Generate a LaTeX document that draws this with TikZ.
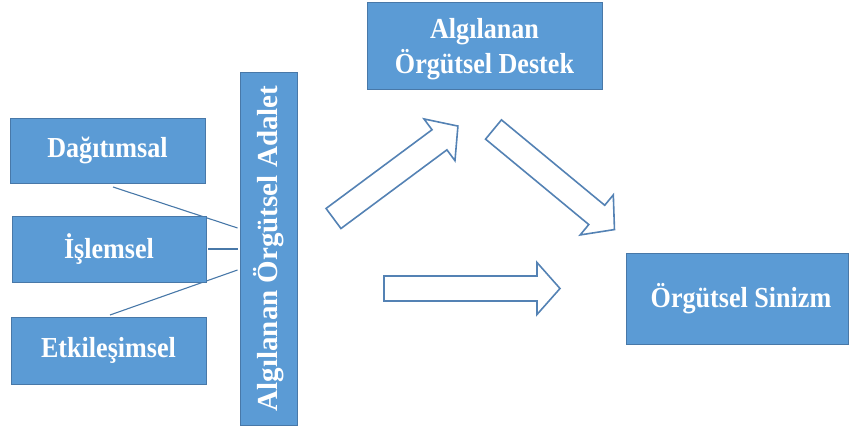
\documentclass[tikz,border=0pt]{standalone}
\usepackage{fontspec}
\setmainfont{Liberation Serif}
\newfontfamily\boxfont{Liberation Serif}[FakeStretch=0.9]
\usetikzlibrary{positioning,calc}
\definecolor{boxblue}{RGB}{91,155,213}
\definecolor{edgeblue}{RGB}{72,120,168}
\definecolor{arrowblue}{RGB}{84,130,180}
\tikzset{>=latex,
  box/.style={draw=edgeblue, line width=0.9pt, fill=boxblue, text=white, align=center, inner sep=0pt,
    font=\boxfont\fontsize{29}{35}\selectfont\bfseries},
  link/.style={draw=edgeblue, line width=1.1pt},
  pics/bigarrow/.style={code={
    \draw[draw=arrowblue, fill=white, line width=1.6pt, line join=miter]
      (0,-12.5) -- ({#1-23},-12.5) -- ({#1-23},-26) -- (#1,0) -- ({#1-23},26) -- ({#1-23},12.5) -- (0,12.5) -- cycle;}}
}
\begin{document}
\begin{tikzpicture}[x=1pt,y=-1pt]
  \useasboundingbox (0,0) rectangle (849,430);

  % justice dimensions
  \node[box, minimum width=195pt, minimum height=65pt] (dag) at (107.5,150.5) {Dağıtımsal};
  \node[box, minimum width=195pt, minimum height=67pt] (etk) at (108.5,350.5) {Etkileşimsel};
  \node[box, rotate=90, minimum width=353pt, minimum height=57pt,
        font=\fontsize{29}{35}\selectfont\bfseries] (adalet) at (268.5,248.5) {Algılanan Örgütsel Adalet};

  \coordinate (dagfoot) at (113,187);
  \coordinate (etkhead) at (110,315);
  \draw[link] (dagfoot) -- ($(adalet.north |- 0,228)+(-2,0)$);
  \draw[link] (etkhead) -- ($(adalet.north |- 0,270)+(-2,0)$);

  \node[box, minimum width=194pt, minimum height=66pt] (isl) at (109,249) {İşlemsel};
  \draw[link] ([xshift=2pt]isl.east) -- ($(adalet.north |- isl.east)+(-2,0)$);

  % support and cynicism
  \node[box, minimum width=235pt, minimum height=87pt, text depth=0pt] (destek) at (484.5,45.5) {Algılanan\\Örgütsel Destek};
  \node[box, minimum width=222pt, minimum height=91pt] (sinizm) at (737,298.5) {\hspace*{8pt}Örgütsel Sinizm};

  \coordinate (up) at (333.5,218.5);
  \coordinate (down) at (493.5,129.5);
  \coordinate (across) at (384,288.5);
  \pic[rotate=36.6] at (up) {bigarrow=155};
  \pic[rotate=-39.6] at (down) {bigarrow=157};
  \pic at (across) {bigarrow=176};
\end{tikzpicture}
\end{document}
